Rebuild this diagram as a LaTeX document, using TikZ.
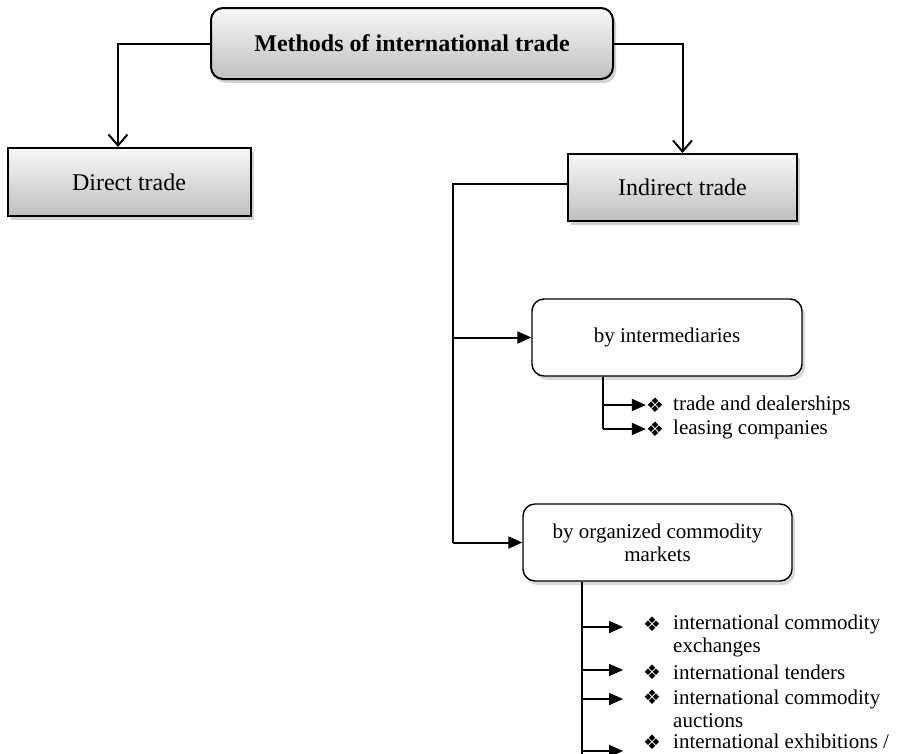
\documentclass[tikz,border=0pt]{standalone}
\usepackage{fontspec}
\setmainfont{Liberation Serif}
\newfontfamily\symf{DejaVu Sans}
\usetikzlibrary{arrows.meta,shadows}
\newcommand{\dia}{{\symf\fontsize{20}{20}\selectfont ❖}}
\begin{document}
\begin{tikzpicture}[x=1pt,y=-1pt,
  txt/.style={font=\fontsize{21}{23}\selectfont},
  shadebox/.style={draw=black, line width=2pt, top color=gray!6, bottom color=gray!50,
    drop shadow={shadow xshift=3pt,shadow yshift=-4pt,opacity=0.35}, font=\fontsize{24}{26}\selectfont, inner sep=0pt},
  whitebox/.style={draw=black, line width=1.4pt, fill=white, rounded corners=12pt,
    drop shadow={shadow xshift=3pt,shadow yshift=-4pt,opacity=0.3}, txt, inner sep=0pt, align=center},
  conn/.style={line width=2pt},
  openarr/.style={conn, -{Straight Barb[length=11pt,width=19pt]}},
  fillarr/.style={conn, -{Triangle[length=14pt,width=12pt]}},
  bul/.style={inner sep=0pt},
  item/.style={txt, anchor=west, inner sep=0pt, align=left}
]
\useasboundingbox (0,0) rectangle (903,753);

% boxes
\node[shadebox, rounded corners=12pt, minimum width=402pt, minimum height=71pt,
  font=\fontsize{24}{26}\selectfont\bfseries] (top) at (412,43.5) {Methods of international trade};
\node[shadebox, minimum width=243pt, minimum height=68pt] (direct) at (129,182) {Direct trade};
\node[shadebox, minimum width=229pt, minimum height=67pt] (indirect) at (682.5,187.5) {Indirect trade};
\node[whitebox, minimum width=270pt, minimum height=77pt] (interm) at (667,337.5) {by intermediaries};
\node[whitebox, minimum width=269pt, minimum height=77pt] (organized) at (657.5,542.5) {by organized commodity\\markets};

% top connectors
\draw[openarr] (top.west) -| ([xshift=-11pt]direct.north);
\draw[openarr] (top.east) -| (indirect.north);

% indirect spine
\draw[conn] ([yshift=4pt]indirect.west) -- (453,183.5) coordinate (spine) -- (spine |- organized.west);
\draw[fillarr] (spine |- organized.west) -- (organized.west);
\draw[fillarr] (spine |- interm.west) -- (interm.west);

% intermediaries items
\node[bul] (b1) at (655,405) {\dia};
\node[item] (t1) at (673,405) {trade and dealerships};
\node[bul] (b2) at (655,429) {\dia};
\node[item] (t2) at (673,429) {leasing companies};
\draw[conn] ([xshift=72pt]interm.south west) coordinate (is) -- (is |- b2.west);
\draw[fillarr] (is |- b1.west) -- (b1.west);
\draw[fillarr] (is |- b2.west) -- (b2.west);

% organized items
\node[bul] (c1) at (652,624) {\dia};
\node[item] (u1) at (673,635.5) {international commodity\\exchanges};
\node[bul] (c2) at (652,672) {\dia};
\node[item] (u2) at (673,672) {international tenders};
\node[bul] (c3) at (652,697) {\dia};
\node[item] (u3) at (673,708.5) {international commodity\\auctions};
\node[bul] (c4) at (652,742) {\dia};
\node[item, anchor=base west] (u4) at (673,748) {international exhibitions /};

\draw[conn] ([xshift=60pt]organized.south west) coordinate (os) -- (os |- 0,760);
\coordinate (e1) at (623,627);
\coordinate (e2) at (623,670);
\coordinate (e3) at (623,699);
\coordinate (e4) at (623,751);
\draw[fillarr] (os |- e1) -- (e1);
\draw[fillarr] (os |- e2) -- (e2);
\draw[fillarr] (os |- e3) -- (e3);
\draw[fillarr] (os |- e4) -- (e4);
\end{tikzpicture}
\end{document}
